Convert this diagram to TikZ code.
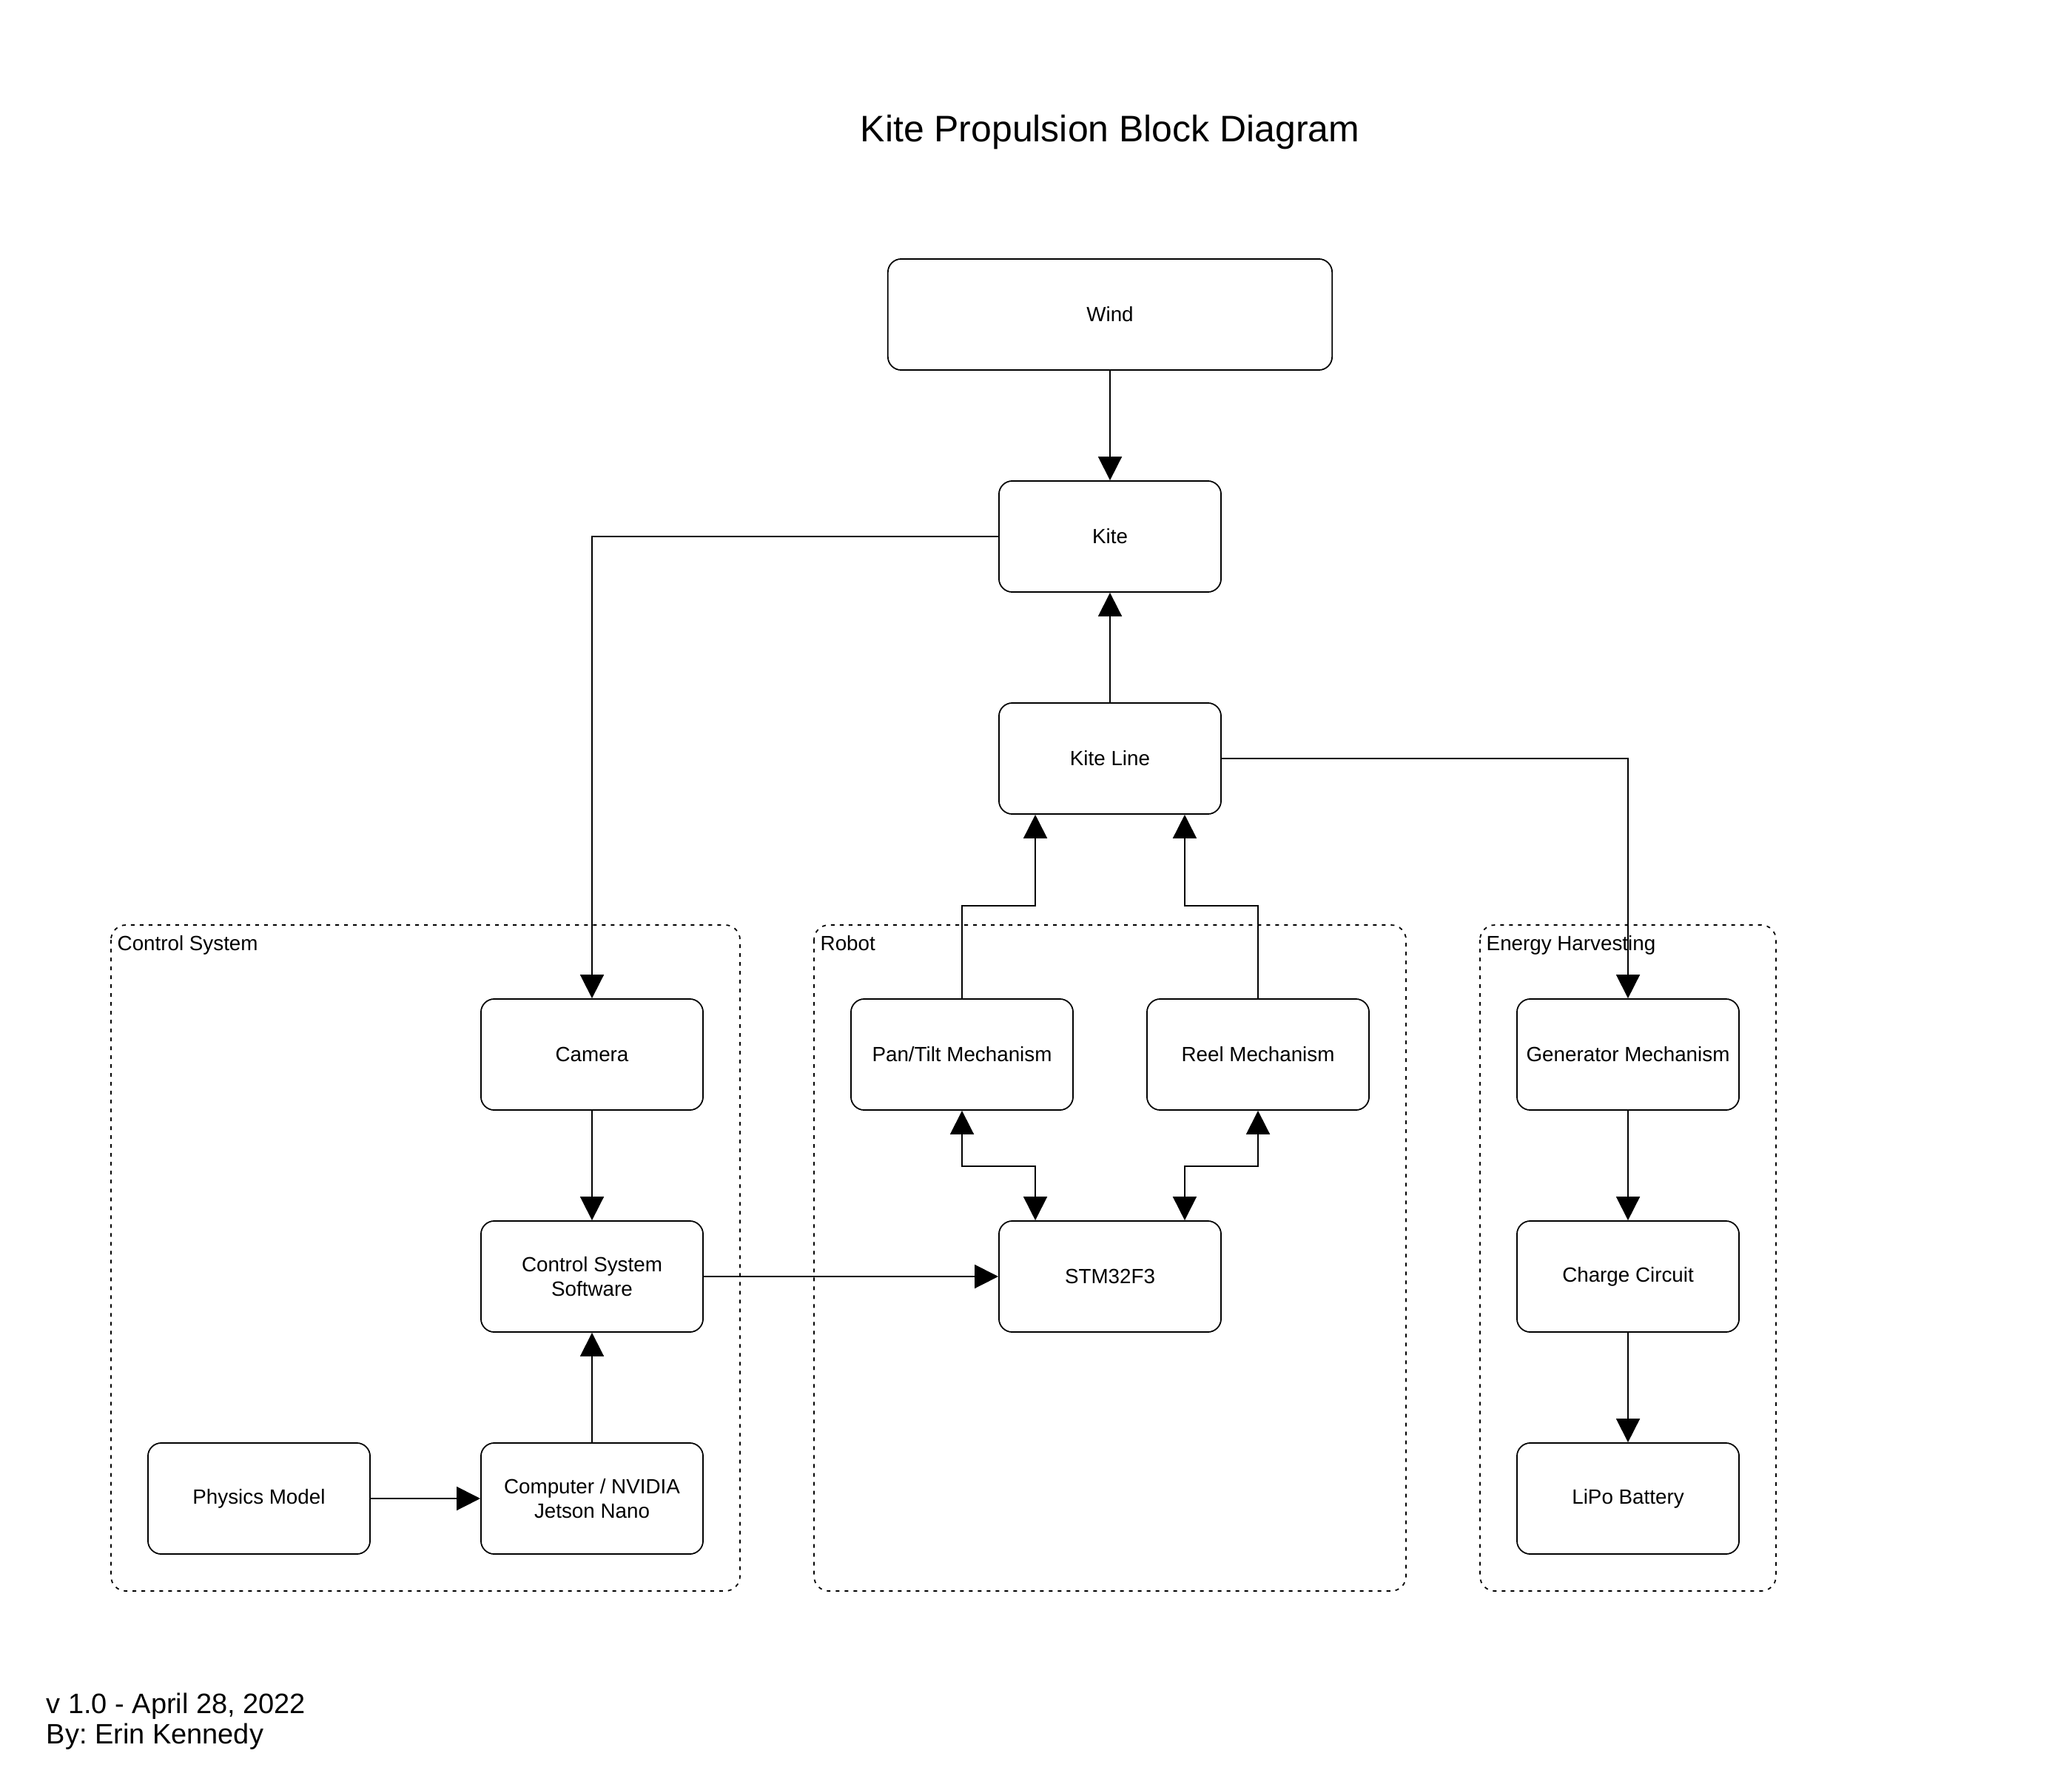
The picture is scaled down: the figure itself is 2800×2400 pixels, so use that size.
\documentclass[tikz,border=0pt]{standalone}
\usepackage{fontspec}
\setmainfont{Liberation Sans}
\usetikzlibrary{arrows.meta,calc}
\frenchspacing

\tikzset{
  block/.style={draw, rounded corners=0.18cm, line width=0.5pt, minimum width=3cm,
    minimum height=1.5cm, align=center, inner sep=0pt, font=\fontsize{7.9}{9.3}\selectfont},
  group/.style={draw, dash pattern=on 0.05cm off 0.07cm, rounded corners=0.2cm, line width=0.5pt},
  grouplabel/.style={anchor=base west, inner sep=0pt, font=\fontsize{7.9}{9.3}\selectfont},
  footnote/.style={anchor=base west, inner sep=0pt, font=\fontsize{10.8}{13}\selectfont},
  conn/.style={line width=0.5pt, -{Triangle[length=0.32cm,width=0.32cm]}},
  bothconn/.style={line width=0.5pt, {Triangle[length=0.32cm,width=0.32cm]}-{Triangle[length=0.32cm,width=0.32cm]}},
}

\begin{document}
\begin{tikzpicture}[x=0.01cm, y=-0.01cm]
\useasboundingbox (0,0) rectangle (2800,2400);

% title
\node[anchor=base, inner sep=0pt, font=\fontsize{14.2}{17}\selectfont] (title) at (1500,192) {Kite Propulsion Block Diagram};

% groups
\draw[group] (150,1250) rectangle (1000,2150);
\draw[group] (1100,1250) rectangle (1900,2150);
\draw[group] (2000,1250) rectangle (2400,2150);
\node[grouplabel] (ctrllbl) at (158,1284) {Control System};
\node[grouplabel] (robotlbl) at (1108,1284) {Robot};
\node[grouplabel] (energylbl) at (2008,1284) {Energy Harvesting};

% blocks
\node[block, minimum width=6cm] (wind) at (1500,425) {Wind};
\node[block] (kite) at (1500,725) {Kite};
\node[block] (kiteline) at (1500,1025) {Kite Line};

\node[block] (camera) at (800,1425) {Camera};
\node[block] (software) at (800,1725) {Control System\\Software};
\node[block] (computer) at (800,2025) {Computer / NVIDIA\\Jetson Nano};
\node[block] (physics) at (350,2025) {Physics Model};

\node[block] (pantilt) at (1300,1425) {Pan/Tilt Mechanism};
\node[block] (reel) at (1700,1425) {Reel Mechanism};
\node[block] (stm) at (1500,1725) {STM32F3};

\node[block] (generator) at (2200,1425) {Generator Mechanism};
\node[block] (charge) at (2200,1725) {Charge Circuit};
\node[block] (lipo) at (2200,2025) {LiPo Battery};

% connectors
\draw[conn] (wind) -- (kite);
\draw[conn] (kiteline) -- (kite);
\draw[conn] (kite.west) -| (camera.north);
\draw[conn] (kiteline.east) -| (generator.north);
\draw[conn] (pantilt.north) -- ++(0,-125) -| ([xshift=0.5cm]kiteline.south west);
\draw[conn] (reel.north) -- ++(0,-125) -| ([xshift=-0.5cm]kiteline.south east);
\draw[bothconn] (pantilt.south) -- ++(0,75) -| ([xshift=0.5cm]stm.north west);
\draw[bothconn] (reel.south) -- ++(0,75) -| ([xshift=-0.5cm]stm.north east);
\draw[conn] (camera) -- (software);
\draw[conn] (computer) -- (software);
\draw[conn] (physics) -- (computer);
\draw[conn] (software) -- (stm);
\draw[conn] (generator) -- (charge);
\draw[conn] (charge) -- (lipo);

% footer
\node[footnote] (version) at (62,2315) {v 1.0 - April 28, 2022};
\node[footnote] (author) at (62,2356) {By: Erin Kennedy};
\end{tikzpicture}
\end{document}
